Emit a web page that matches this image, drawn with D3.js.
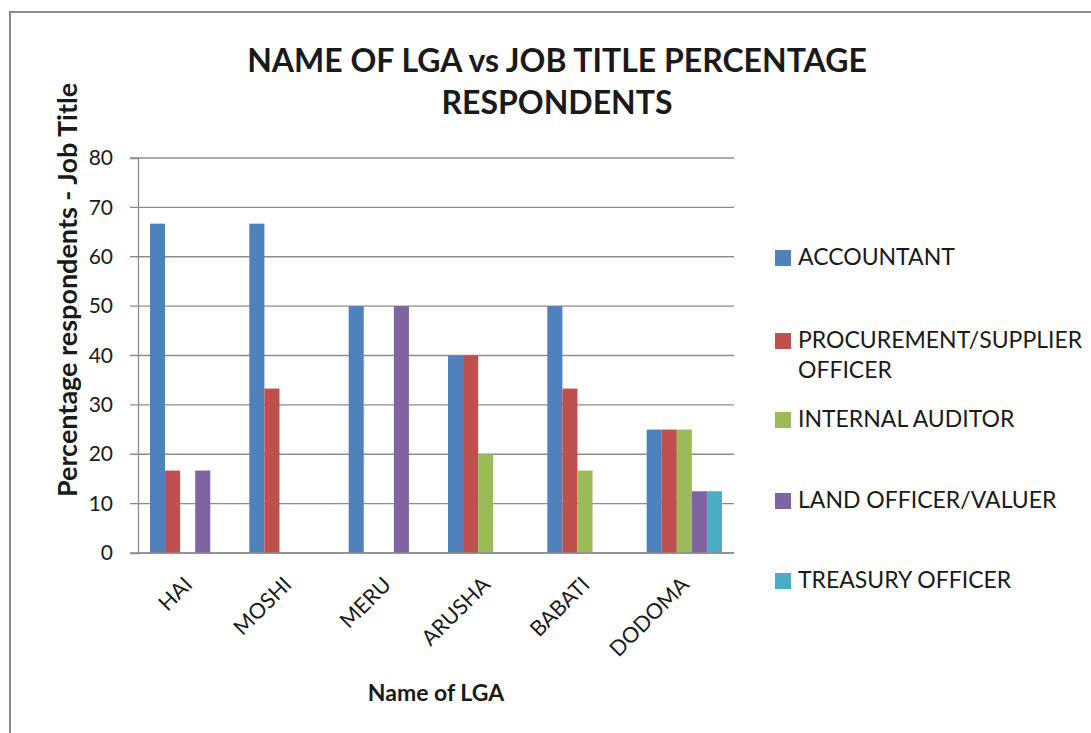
<!DOCTYPE html>
<html>
<head>
<meta charset="utf-8">
<script src="https://cdn.jsdelivr.net/npm/d3@7"></script>
<style>
  body { margin: 0; background: #fff; }
  text { font-family: Lato, "Open Sans", sans-serif; fill: #1a1a1a; }
</style>
</head>
<body>
<div id="chart"></div>
<script>
// data
const LGAS = ["HAI", "MOSHI", "MERU", "ARUSHA", "BABATI", "DODOMA"];
const JOBS = ["ACCOUNTANT", "PROCUREMENT/SUPPLIER OFFICER", "INTERNAL AUDITOR", "LAND OFFICER/VALUER", "TREASURY OFFICER"];
const ACCOUNTANT = [66.7, 66.7, 50, 40, 50, 25];
const PROCUREMENT = [16.7, 33.3, 0, 40, 33.3, 25];
const AUDITOR = [0, 0, 0, 20, 16.7, 25];
const LAND = [16.7, 0, 50, 0, 0, 12.5];
const TREASURY = [0, 0, 0, 0, 0, 12.5];
const Y_TICKS = [0, 10, 20, 30, 40, 50, 60, 70, 80];
const COLORS = ["#4F81BD", "#C0504D", "#9BBB59", "#8064A2", "#4BACC6"];

const SERIES = [ACCOUNTANT, PROCUREMENT, AUDITOR, LAND, TREASURY];

const WIDTH = 1091, HEIGHT = 733;
const MARGIN = { left: 138, right: 357, top: 158, bottom: 180 };
const PLOT_W = WIDTH - MARGIN.left - MARGIN.right;
const PLOT_H = HEIGHT - MARGIN.top - MARGIN.bottom;

const svg = d3.select("#chart")
    .append("svg")
    .attr("width", WIDTH)
    .attr("height", HEIGHT);

// outer frame
svg.append("rect")
    .attr("x", 10).attr("y", 12)
    .attr("width", WIDTH + 20).attr("height", HEIGHT + 20)
    .attr("fill", "none")
    .attr("stroke", "#8a8a8a")
    .attr("stroke-width", 2);

// title
svg.append("text")
    .attr("x", 557).attr("y", 72)
    .attr("text-anchor", "middle")
    .style("font-size", "32px").style("font-weight", "bold")
    .text("NAME OF LGA vs JOB TITLE PERCENTAGE");
svg.append("text")
    .attr("x", 557).attr("y", 114)
    .attr("text-anchor", "middle")
    .style("font-size", "32px").style("font-weight", "bold")
    .text("RESPONDENTS");

const g = svg.append("g")
    .attr("transform", `translate(${MARGIN.left},${MARGIN.top})`);

const x0 = d3.scaleBand().domain(LGAS).range([0, PLOT_W]);
const GAP = 24;
const x1 = d3.scaleBand().domain(d3.range(JOBS.length))
    .range([GAP / 2, x0.bandwidth() - GAP / 2]);
const y = d3.scaleLinear().domain([0, 80]).range([PLOT_H, 0]);

// gridlines
g.append("g")
    .selectAll("line")
    .data(Y_TICKS)
    .enter().append("line")
    .attr("x1", -8).attr("x2", PLOT_W)
    .attr("y1", d => y(d)).attr("y2", d => y(d))
    .attr("stroke", "#8c8c8c")
    .attr("stroke-width", 1.3);

// y axis
const yAxis = g.append("g")
    .call(d3.axisLeft(y).tickValues(Y_TICKS).tickSize(8).tickPadding(17));
yAxis.select(".domain").attr("stroke", "#8c8c8c").attr("stroke-width", 1.3);
yAxis.selectAll(".tick line").remove();
yAxis.selectAll("text")
    .style("font-size", "21px")
    .style("font-family", "Lato, sans-serif")
    .attr("fill", "#1a1a1a");

// bars
g.append("g")
    .selectAll("g")
    .data(LGAS)
    .enter().append("g")
    .attr("transform", d => `translate(${x0(d)},0)`)
    .selectAll("rect")
    .data((d, i) => SERIES.map((s, j) => ({ j: j, v: s[i] })))
    .enter().append("rect")
    .attr("x", d => x1(d.j))
    .attr("width", x1.bandwidth())
    .attr("y", d => y(d.v))
    .attr("height", d => y(0) - y(d.v))
    .attr("fill", d => COLORS[d.j]);

// x axis line
g.append("line")
    .attr("x1", 0).attr("x2", PLOT_W)
    .attr("y1", PLOT_H).attr("y2", PLOT_H)
    .attr("stroke", "#8c8c8c")
    .attr("stroke-width", 1.3);

// x labels
g.append("g")
    .selectAll("text")
    .data(LGAS)
    .enter().append("text")
    .attr("text-anchor", "end")
    .attr("transform", d => `translate(${x0(d) + x0.bandwidth() / 2 + 6},${PLOT_H + 33}) rotate(-45)`)
    .style("font-size", "21.5px")
    .text(d => d);

// axis titles
svg.append("text")
    .attr("x", 436).attr("y", 701)
    .attr("text-anchor", "middle")
    .style("font-size", "23px").style("font-weight", "bold")
    .text("Name of LGA");

svg.append("text")
    .attr("transform", "translate(77,290) rotate(-90)")
    .attr("text-anchor", "middle")
    .style("font-size", "27px").style("font-weight", "bold")
    .text("Percentage respondents - Job Title");

// legend
const LEGEND_Y = [257, 340, 419, 500, 580];
const legend = svg.append("g")
    .selectAll("g")
    .data(JOBS)
    .enter().append("g")
    .attr("transform", (d, i) => `translate(775,${LEGEND_Y[i]})`);
legend.append("rect")
    .attr("x", 0).attr("y", -7)
    .attr("width", 16).attr("height", 16)
    .attr("fill", (d, i) => COLORS[i]);
legend.append("text")
    .attr("x", 23).attr("y", 8)
    .style("font-size", "23px")
    .each(function(d) {
        const parts = d === "PROCUREMENT/SUPPLIER OFFICER" ? ["PROCUREMENT/SUPPLIER", "OFFICER"] : [d];
        d3.select(this).selectAll("tspan")
            .data(parts)
            .enter().append("tspan")
            .attr("x", 23)
            .attr("dy", (p, k) => k === 0 ? 0 : 30)
            .text(p => p);
    });
</script>
</body>
</html>
